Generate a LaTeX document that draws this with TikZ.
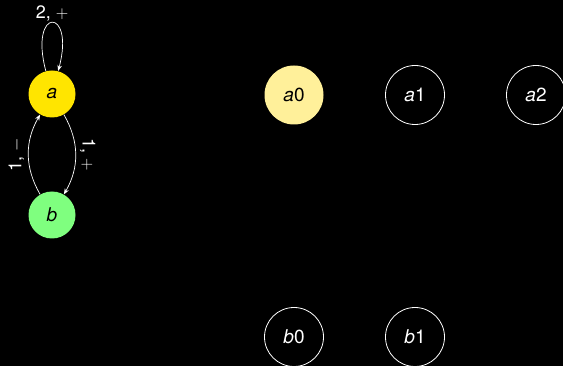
\documentclass[tikz,border=0pt]{standalone}
\usepackage{fontspec}
\setsansfont{TeX Gyre Heros}
\usetikzlibrary{arrows.meta}
\definecolor{stategold}{HTML}{FFE500}
\definecolor{stategreen}{HTML}{7FFF7F}
\definecolor{statepale}{HTML}{FFF09A}
\tikzset{
	small/.style={circle, minimum size=47pt, inner sep=0pt, font=\sffamily\fontsize{19}{19}\selectfont},
	big/.style={circle, minimum size=59pt, inner sep=0pt, font=\sffamily\fontsize{19}{19}\selectfont},
	open/.style={big, draw=white, line width=0.8pt, text=white},
	trans/.style={white, line width=0.7pt, -{Stealth[length=6pt,width=4.5pt]}},
	lbl/.style={text=white, font=\sffamily\fontsize{18}{18}\selectfont}
}
\begin{document}
\begin{tikzpicture}[x=1pt, y=-1pt]
	\fill[black] (0,0) rectangle (563,366);
	\useasboundingbox (0,0) rectangle (563,366);
	% the two-state machine
	\node[small, fill=stategold] (a) at (52,94) {\textit{a}};
	\node[small, fill=stategreen] (b) at (52,215) {\textit{b}};
	\draw[trans] (a) to[out=105, in=75, looseness=14] node[lbl, above, inner sep=1pt] {2, $+$} (a);
	\draw[trans] (a) to[bend left=30] node[lbl, sloped, above, inner sep=4pt] {1, $+$} (b);
	\draw[trans] (b) to[bend left=30] node[lbl, sloped, above, inner sep=4pt] {1, $-$} (a);
	% the unfolded states
	\node[big, fill=statepale] (a0) at (294,95) {\textit{a}0};
	\node[open] (a1) at (415,95) {\textit{a}1};
	\node[open] (a2) at (536,95) {\textit{a}2};
	\node[open] (b0) at (294,337) {\textit{b}0};
	\node[open] (b1) at (415,337) {\textit{b}1};
\end{tikzpicture}
\end{document}
